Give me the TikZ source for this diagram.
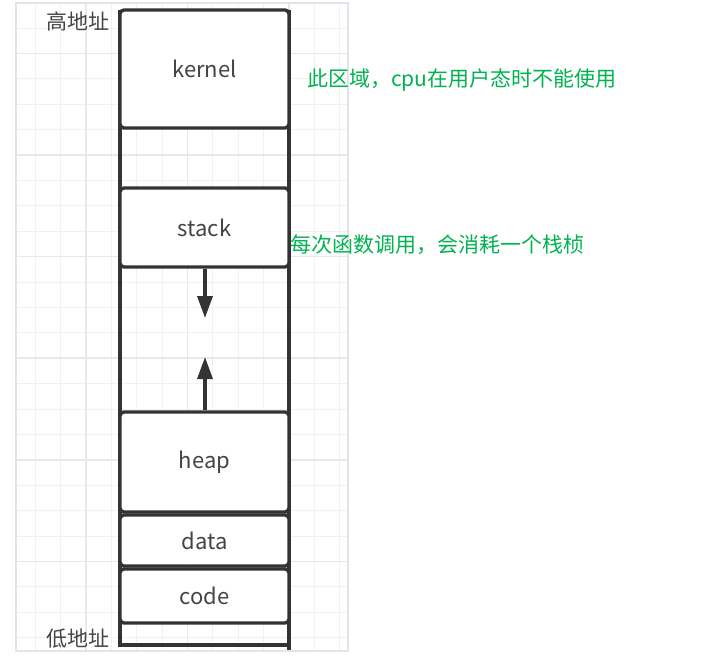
\documentclass[tikz,border=0pt]{standalone}
\usepackage{fontspec}
\setmainfont{Noto Sans CJK SC}
\usetikzlibrary{arrows.meta}
\definecolor{gridminor}{HTML}{F1F1F3}
\definecolor{gridmajor}{HTML}{E8E8EC}
\definecolor{gridframe}{HTML}{E3E3EB}
\definecolor{boxline}{HTML}{333333}
\definecolor{labeltext}{HTML}{444444}
\definecolor{notegreen}{RGB}{0,178,80}
\tikzset{
  membox/.style={draw=boxline, line width=3.4pt, rounded corners=4pt, fill=white,
    minimum width=169pt, inner sep=0pt, text=labeltext,
    font=\fontsize{22}{26}\selectfont},
  addrlabel/.style={text=labeltext, inner sep=0pt, font=\fontsize{21}{25}\selectfont},
  notelabel/.style={text=notegreen, inner sep=0pt, anchor=west, font=\fontsize{21}{25}\selectfont},
  outline/.style={draw=boxline, line width=3.4pt},
  growarrow/.style={draw=boxline, line width=3.4pt, -{Triangle[length=22pt,width=15pt]}}
}
\begin{document}
\begin{tikzpicture}[x=1pt,y=-1pt]
\useasboundingbox (0,0) rectangle (726,662);
% grid
\begin{scope}
\clip (16,3) rectangle (348,651);
\foreach \k in {1,...,13}{
  \pgfmathsetmacro{\xx}{9.6+25.4*\k}
  \draw[gridminor, line width=1pt] (\xx,3) -- (\xx,651);
}
\foreach \k in {1,...,25}{
  \pgfmathsetmacro{\yy}{2.6+25.4*\k}
  \draw[gridminor, line width=1pt] (16,\yy) -- (348,\yy);
}
\foreach \k in {3,7,11}{
  \pgfmathsetmacro{\xx}{9.6+25.4*\k}
  \draw[gridmajor, line width=1.5pt] (\xx,3) -- (\xx,651);
}
\foreach \k in {2,6,10,14,18,22}{
  \pgfmathsetmacro{\yy}{2.6+25.4*\k}
  \draw[gridmajor, line width=1.5pt] (16,\yy) -- (348,\yy);
}
\end{scope}
\draw[gridframe, line width=1.5pt] (16,3) rectangle (348,651);
% outer frame
\coordinate (otl) at (120,10);
\coordinate (obl) at (120,645);
\coordinate (obr) at (289,645);
\coordinate (otr) at (289,10);
\coordinate (obr2) at (289,650);
\draw[outline] (otl) -- (obl) -- (obr);
\draw[outline] (otr) -- (obr2);
% boxes
\node[membox, minimum height=118pt] (kernel) at (204.5,69) {kernel};
\node[membox, minimum height=79pt] (stack) at (204.5,227.5) {stack};
\node[membox, minimum height=100pt] (heap) at (204.5,462) {heap};
\node[membox, minimum height=51pt] (data) at (204.5,540.5) {data};
\node[membox, minimum height=54pt] (code) at (204.5,596) {code};
% arrows
\coordinate (stacktip) at (205,318);
\coordinate (heaptip) at (205,357);
\draw[growarrow] (stack.south -| stacktip) -- (stacktip);
\draw[growarrow] (heap.north -| heaptip) -- (heaptip);
% address labels
\node[addrlabel] (high) at (78,21) {高地址};
\node[addrlabel] (low) at (78,639) {低地址};
% notes
\node[notelabel] (note1) at (307,80) {此区域，cpu在用户态时不能使用};
\node[notelabel] (note2) at (290,245) {每次函数调用，会消耗一个栈桢};
\end{tikzpicture}
\end{document}
